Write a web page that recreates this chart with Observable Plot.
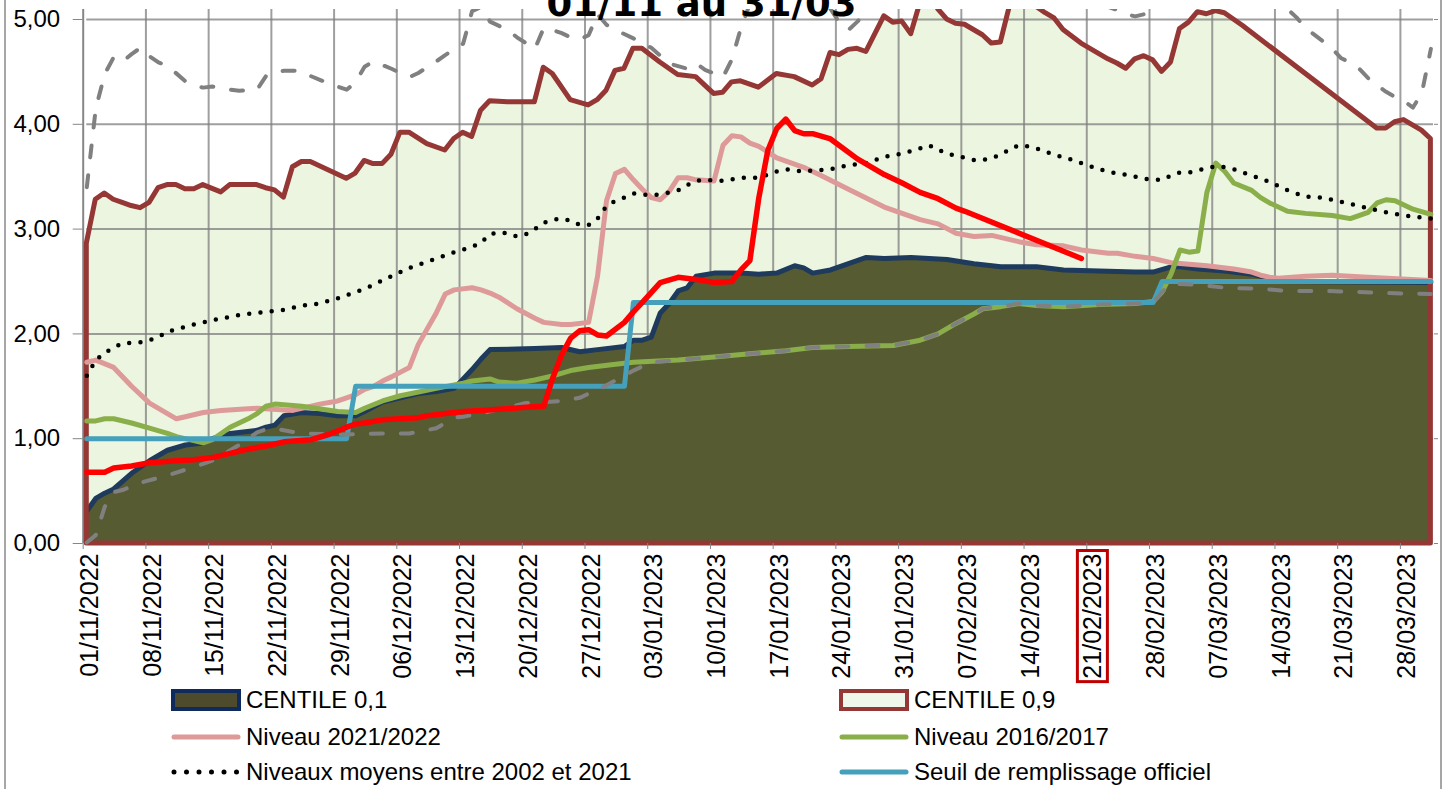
<!DOCTYPE html>
<html>
<head>
<meta charset="utf-8">
<script src="https://cdn.jsdelivr.net/npm/d3@7"></script>
<script src="https://cdn.jsdelivr.net/npm/@observablehq/plot@0.6"></script>
<style>
  body { margin: 0; background: #fff; }
  #wrap { position: relative; width: 1447px; height: 789px; overflow: hidden; font-family: "Liberation Sans", Arial, sans-serif; }
  #chart { position: absolute; left: 0; top: 0; }
  #title { position: absolute; left: 0; width: 1403px; top: -15px; text-align: center; font: bold 37px/37px "DejaVu Sans", sans-serif; color: #000; white-space: nowrap; }
  .border { position: absolute; top: 0; width: 2px; height: 789px; background: #a6a6a6; }
  .leg { position: absolute; height: 24px; display: flex; align-items: center; font-size: 24px; color: #000; white-space: nowrap; }
  .leg svg { margin-right: 5px; flex: none; }
</style>
</head>
<body>
<div id="wrap">
  <div class="border" style="left:4px"></div>
  <div class="border" style="left:1440px"></div>
  <div id="chart"></div>
  <div id="title">01/11 au 31/03</div>
  <div id="legend"></div>
</div>
<script>
// ---- categories / tick labels ----
const startDay = "01/11/2022";
const endDay = "31/03/2023";
const tickLabels = ["01/11/2022","08/11/2022","15/11/2022","22/11/2022","29/11/2022","06/12/2022","13/12/2022","20/12/2022","27/12/2022","03/01/2023","10/01/2023","17/01/2023","24/01/2023","31/01/2023","07/02/2023","14/02/2023","21/02/2023","28/02/2023","07/03/2023","14/03/2023","21/03/2023","28/03/2023"];
const yTicks = [0, 1, 2, 3, 4, 5];
const highlightedLabel = "21/02/2023";

// ---- series: [day index from 01/11/2022, value] ----
const centile90 = [[0,2.86],[1,3.28],[2,3.34],[3,3.28],[4,3.25],[5,3.22],[6,3.20],[7,3.25],[8,3.39],[9,3.42],[10,3.42],[11,3.38],[12,3.38],[13,3.42],[15,3.35],[16,3.42],[19,3.42],[20,3.39],[21,3.37],[22,3.30],[23,3.59],[24,3.64],[25,3.64],[29,3.48],[30,3.53],[31,3.65],[32,3.62],[33,3.62],[34,3.71],[35,3.92],[36,3.92],[38,3.81],[40,3.75],[41,3.86],[42,3.92],[43,3.88],[44,4.13],[45,4.22],[47,4.21],[50,4.21],[51,4.54],[52,4.48],[54,4.23],[56,4.18],[57,4.23],[58,4.32],[59,4.51],[60,4.53],[61,4.72],[62,4.72],[64,4.59],[66,4.47],[68,4.45],[70,4.29],[71,4.30],[72,4.40],[73,4.41],[75,4.35],[77,4.48],[79,4.45],[81,4.37],[82,4.43],[83,4.68],[84,4.66],[85,4.71],[86,4.72],[87,4.69],[89,5.03],[90,4.97],[91,4.98],[92,4.86],[93,5.15],[94,5.30],[95,5.10],[96,5.00],[97,4.96],[98,4.95],[99,4.90],[100,4.85],[101,4.77],[102,4.78],[103,5.12],[104,5.30],[105,5.35],[106,5.12],[107,5.06],[108,5.01],[109,4.90],[111,4.77],[114,4.62],[115,4.58],[116,4.53],[117,4.62],[118,4.65],[119,4.61],[120,4.50],[121,4.59],[122,4.91],[123,4.97],[124,5.07],[125,5.05],[126,5.08],[127,5.06],[129,4.94],[144,3.96],[145,3.96],[146,4.02],[147,4.04],[149,3.94],[150,3.86]];
const centile10 = [[0,0.31],[1,0.43],[2,0.48],[3,0.52],[5,0.67],[7,0.79],[9,0.89],[11,0.94],[13,0.96],[14,1.00],[16,1.05],[19,1.08],[20,1.11],[21,1.13],[22,1.22],[24,1.25],[26,1.24],[28,1.22],[30,1.22],[31,1.26],[33,1.35],[35,1.39],[37,1.43],[39,1.45],[41,1.48],[42,1.57],[43,1.66],[44,1.76],[45,1.85],[50,1.86],[53,1.87],[55,1.83],[57,1.85],[60,1.88],[61,1.94],[62,1.94],[63,1.97],[64,2.20],[65,2.29],[66,2.41],[67,2.44],[68,2.55],[70,2.58],[73,2.58],[75,2.57],[77,2.58],[79,2.65],[80,2.63],[81,2.58],[83,2.61],[85,2.67],[87,2.73],[89,2.72],[92,2.73],[96,2.71],[99,2.67],[102,2.64],[106,2.64],[109,2.61],[113,2.60],[117,2.59],[119,2.59],[121,2.64],[122,2.64],[124,2.62],[127,2.60],[130,2.57],[132,2.53],[133,2.50],[150,2.49]];
const niveau2122 = [[0,1.73],[1,1.75],[3,1.68],[5,1.50],[7,1.34],[10,1.19],[11,1.21],[13,1.25],[15,1.27],[19,1.29],[23,1.27],[26,1.33],[28,1.36],[29,1.39],[30,1.42],[31,1.47],[32,1.50],[33,1.55],[34,1.59],[36,1.68],[37,1.90],[39,2.20],[40,2.38],[41,2.42],[43,2.44],[44,2.42],[45,2.39],[46,2.35],[48,2.24],[50,2.15],[51,2.11],[53,2.09],[54,2.09],[56,2.11],[57,2.55],[58,3.27],[59,3.53],[60,3.57],[61,3.47],[62,3.38],[63,3.30],[64,3.28],[65,3.36],[66,3.49],[67,3.49],[68,3.47],[70,3.46],[71,3.80],[72,3.89],[73,3.88],[74,3.82],[75,3.79],[77,3.68],[80,3.59],[82,3.51],[85,3.38],[89,3.21],[93,3.09],[95,3.05],[97,2.96],[99,2.93],[101,2.94],[104,2.88],[106,2.85],[109,2.84],[111,2.80],[114,2.77],[115,2.77],[117,2.74],[119,2.72],[121,2.68],[125,2.65],[128,2.62],[130,2.59],[131,2.56],[132,2.54],[133,2.53],[136,2.55],[139,2.56],[143,2.54],[150,2.51]];
const niveau1617 = [[0,1.17],[1,1.17],[2,1.19],[3,1.19],[5,1.15],[7,1.10],[9,1.05],[10,1.02],[13,0.96],[14,0.99],[15,1.05],[16,1.11],[17,1.15],[18,1.19],[19,1.24],[20,1.31],[21,1.33],[24,1.31],[28,1.26],[30,1.25],[31,1.29],[33,1.36],[35,1.41],[39,1.48],[42,1.53],[43,1.55],[45,1.57],[46,1.54],[48,1.53],[50,1.56],[52,1.60],[54,1.65],[56,1.68],[59,1.71],[61,1.73],[66,1.75],[70,1.78],[74,1.81],[78,1.84],[81,1.87],[85,1.88],[90,1.89],[93,1.94],[95,2.00],[97,2.10],[99,2.19],[100,2.24],[102,2.26],[104,2.29],[106,2.27],[109,2.26],[113,2.28],[117,2.29],[119,2.31],[120,2.40],[121,2.57],[122,2.80],[123,2.78],[124,2.79],[125,3.35],[126,3.63],[127,3.55],[128,3.44],[130,3.37],[131,3.30],[132,3.25],[134,3.17],[136,3.15],[139,3.13],[141,3.10],[143,3.16],[144,3.25],[145,3.28],[146,3.27],[148,3.19],[150,3.14]];
const seuilOfficiel = [[0,1.0],[29,1.0],[30,1.5],[60,1.5],[61,2.3],[119,2.3],[120,2.5],[150,2.5]];
const niveauxMoyens = [[0,1.60],[1,1.75],[2,1.82],[3,1.87],[4,1.91],[6,1.92],[7,1.94],[8,1.97],[9,2.02],[12,2.09],[14,2.13],[17,2.18],[19,2.20],[22,2.23],[24,2.27],[26,2.29],[28,2.34],[29,2.37],[31,2.43],[33,2.51],[36,2.63],[38,2.69],[41,2.78],[43,2.83],[44,2.87],[45,2.95],[46,2.97],[47,2.96],[48,2.93],[49,2.95],[50,3.00],[51,3.06],[52,3.09],[53,3.10],[54,3.08],[55,3.04],[56,3.04],[57,3.10],[58,3.22],[59,3.27],[60,3.30],[61,3.34],[63,3.32],[65,3.35],[66,3.37],[67,3.42],[68,3.46],[69,3.47],[71,3.46],[73,3.49],[75,3.49],[77,3.55],[78,3.57],[80,3.55],[81,3.56],[83,3.57],[85,3.61],[87,3.63],[89,3.69],[91,3.72],[93,3.77],[94,3.80],[95,3.76],[96,3.72],[97,3.70],[98,3.68],[99,3.66],[100,3.66],[101,3.68],[102,3.71],[103,3.76],[104,3.80],[105,3.79],[106,3.77],[108,3.71],[110,3.66],[113,3.57],[115,3.53],[116,3.52],[118,3.48],[119,3.47],[120,3.47],[121,3.51],[122,3.54],[123,3.54],[125,3.58],[126,3.60],[127,3.59],[128,3.57],[130,3.51],[132,3.45],[134,3.37],[136,3.31],[138,3.30],[140,3.26],[143,3.20],[145,3.16],[147,3.13],[149,3.11],[150,3.10]];
const minDashed = [[0,0.01],[1,0.08],[2,0.35],[3,0.49],[4,0.51],[6,0.58],[9,0.65],[12,0.73],[14,0.79],[16,0.89],[17,0.94],[19,1.06],[20,1.09],[21,1.10],[22,1.08],[24,1.05],[28,1.04],[33,1.05],[36,1.05],[39,1.10],[41,1.20],[42,1.21],[44,1.24],[46,1.28],[49,1.34],[53,1.36],[55,1.39],[58,1.51],[61,1.65],[63,1.73],[66,1.75],[70,1.78],[74,1.81],[78,1.84],[81,1.87],[85,1.88],[90,1.89],[93,1.94],[95,2.00],[97,2.10],[99,2.19],[100,2.24],[102,2.26],[104,2.29],[106,2.27],[109,2.26],[113,2.28],[117,2.29],[119,2.30],[120,2.40],[121,2.48],[124,2.47],[127,2.44],[131,2.43],[134,2.41],[138,2.41],[142,2.40],[145,2.39],[150,2.38]];
const maxDashed = [[0,3.40],[1,4.15],[2,4.48],[3,4.64],[4,4.60],[5,4.67],[6,4.73],[7,4.65],[8,4.59],[9,4.56],[11,4.41],[12,4.37],[13,4.35],[14,4.36],[16,4.33],[17,4.32],[19,4.33],[20,4.46],[21,4.50],[22,4.51],[24,4.51],[25,4.46],[27,4.39],[29,4.33],[30,4.40],[31,4.55],[32,4.60],[34,4.53],[36,4.45],[37,4.49],[39,4.60],[40,4.66],[42,4.77],[43,5.08],[44,5.12],[45,4.98],[47,4.90],[48,4.83],[50,4.72],[51,4.92],[52,4.90],[53,4.87],[54,4.83],[55,4.81],[56,4.85],[57,5.05],[58,4.95],[59,4.90],[61,4.82],[63,4.73],[65,4.58],[67,4.53],[68,4.58],[69,4.52],[71,4.45],[72,4.62],[73,4.92],[74,5.15],[76,5.50],[80,5.60],[83,5.10],[84,4.97],[85,4.90],[86,4.98],[87,5.08],[88,5.20],[92,5.60],[100,5.60],[110,5.40],[114,5.12],[115,5.09],[116,5.05],[117,5.03],[118,5.05],[119,5.09],[120,5.20],[125,5.40],[133,5.20],[134,5.10],[135,5.02],[136,4.92],[138,4.79],[139,4.72],[140,4.63],[141,4.59],[142,4.53],[143,4.44],[144,4.37],[145,4.31],[146,4.26],[147,4.22],[148,4.16],[149,4.30],[150,4.72]];
const niveau2223 = [[0,0.68],[2,0.68],[3,0.72],[5,0.74],[7,0.77],[10,0.79],[12,0.80],[14,0.82],[16,0.86],[17,0.88],[18,0.90],[20,0.93],[22,0.97],[25,0.99],[27,1.04],[29,1.11],[30,1.14],[31,1.15],[33,1.18],[35,1.19],[37,1.20],[38,1.22],[40,1.24],[42,1.26],[44,1.27],[46,1.28],[49,1.30],[51,1.31],[52,1.58],[53,1.80],[54,1.96],[55,2.03],[56,2.04],[57,1.99],[58,1.98],[60,2.11],[61,2.21],[62,2.30],[64,2.49],[66,2.54],[68,2.52],[70,2.49],[72,2.50],[73,2.61],[74,2.70],[75,3.30],[76,3.75],[77,3.96],[78,4.05],[79,3.94],[80,3.91],[81,3.91],[83,3.86],[86,3.67],[89,3.52],[91,3.44],[93,3.35],[95,3.29],[97,3.20],[98,3.17],[111,2.72]];

// ---- legend entries ----
const legendItems = [
  {label: "CENTILE 0,1", kind: "box", fill: "#4E4B2D", stroke: "#0F2B5E", col: 0, row: 0},
  {label: "CENTILE 0,9", kind: "box", fill: "#EEF7EA", stroke: "#953735", col: 1, row: 0},
  {label: "Niveau 2021/2022", kind: "line", stroke: "#DD9A98", col: 0, row: 1},
  {label: "Niveau 2016/2017", kind: "line", stroke: "#8AAE4A", col: 1, row: 1},
  {label: "Niveaux moyens entre 2002 et 2021", kind: "dots", stroke: "#000", col: 0, row: 2},
  {label: "Seuil de remplissage officiel", kind: "line", stroke: "#45A0BB", col: 1, row: 2}
];

// ---- build ----
const parse = d3.utcParse("%d/%m/%Y");
const fmt = d3.utcFormat("%d/%m/%Y");
const start = parse(startDay);
const end = parse(endDay);
const tickDates = tickLabels.map(parse);
const X = d => d3.utcHour.offset(start, d[0] * 24);
const Y = d => d[1];
const gridGray = "#7f7f7f";
const axisGray = "#868686";
const dashed = {stroke: "#808080", strokeWidth: 4, strokeDasharray: "12 18", strokeLinecap: "round", clip: true};

const chart = Plot.plot({
  width: 1447,
  height: 684,
  marginTop: 9,
  marginBottom: 141,
  marginLeft: 86.3,
  marginRight: 14,
  style: {background: "transparent", fontFamily: "'Liberation Sans', Arial, sans-serif", overflow: "visible"},
  x: {type: "utc", domain: [start, d3.utcHour.offset(end, 7.2)], axis: null},
  y: {domain: [0, 5.0954], axis: null},
  marks: [
    Plot.areaY(centile90, {x: X, y: Y, fill: "#EBF5DF", clip: true}),
    Plot.ruleY(yTicks.filter(v => v > 0), {y: d => d, stroke: gridGray, strokeOpacity: 0.75, strokeWidth: 2}),
    Plot.ruleX(tickDates.slice(1), {x: d => d, stroke: gridGray, strokeOpacity: 0.75, strokeWidth: 2, dx: -3.6}),
    Plot.ruleX([start], {x: d => d, stroke: axisGray, strokeWidth: 2, dx: -3.6}),
    Plot.areaY(centile10, {x: X, y: Y, fill: "#575B31", clip: true}),
    Plot.lineY(centile10, {x: X, y: Y, stroke: "#1E3A5C", strokeWidth: 5, clip: true}),
    Plot.areaY(centile90, {x: X, y: Y, fill: "none", stroke: "#953735", strokeWidth: 5, strokeLinejoin: "round", clip: true}),
    Plot.lineY(niveau2122, {x: X, y: Y, stroke: "#DD9A98", strokeWidth: 5, clip: true}),
    Plot.lineY(niveau1617, {x: X, y: Y, stroke: "#8AAE4A", strokeWidth: 5, clip: true}),
    Plot.lineY(seuilOfficiel, {x: X, y: Y, stroke: "#45A0BB", strokeWidth: 5, clip: true}),
    Plot.lineY(minDashed, {x: X, y: Y, ...dashed}),
    Plot.lineY(maxDashed, {x: X, y: Y, ...dashed}),
    Plot.lineY(niveauxMoyens, {x: X, y: Y, stroke: "#000", strokeWidth: 4.5, strokeDasharray: "0 11.3", strokeLinecap: "round", clip: true}),
    Plot.lineY(niveau2223, {x: X, y: Y, stroke: "#FF0000", strokeWidth: 5.5, strokeLinejoin: "round", clip: true}),
    Plot.axisY({ticks: yTicks, tickSize: 10, tickPadding: 13, dx: -3.6, stroke: axisGray, fill: "#000", fontSize: 24,
      tickFormat: v => v.toFixed(2).replace(".", ",")}),
    Plot.axisY({anchor: "right", ticks: yTicks, tickSize: 4, stroke: axisGray, tickFormat: () => ""}),
    Plot.axisX({ticks: tickDates, tickSize: 6, dx: -3.6, stroke: axisGray, tickFormat: () => ""}),
    Plot.text(tickDates, {x: d => d, text: d => fmt(d), frameAnchor: "bottom", rotate: -90, textAnchor: "end",
      lineAnchor: "middle", dy: 10, dx: 3, fontSize: 25, fill: "#000"})
  ]
});
document.getElementById("chart").appendChild(chart);

// let clipped marks keep the full stroke at bottom/left/right; only the top is cut
chart.querySelectorAll("clipPath rect").forEach(r => {
  r.setAttribute("x", 0); r.setAttribute("width", 1447);
  r.setAttribute("y", 9); r.setAttribute("height", 545);
});

// red box around the highlighted date label
const svgBox = chart.getBoundingClientRect();
const hl = [...chart.querySelectorAll("text")].find(t => t.textContent === highlightedLabel);
if (hl) {
  const b = hl.getBoundingClientRect();
  const r = document.createElementNS("http://www.w3.org/2000/svg", "rect");
  r.setAttribute("x", b.left - svgBox.left - 1);
  r.setAttribute("y", b.top - svgBox.top - 3);
  r.setAttribute("width", b.width + 2);
  r.setAttribute("height", b.height + 6);
  r.setAttribute("fill", "none");
  r.setAttribute("stroke", "#C00000");
  r.setAttribute("stroke-width", 3);
  chart.appendChild(r);
}

// legend
const legend = document.getElementById("legend");
const colX = [171, 839];
const rowY = [700, 737, 772];
for (const it of legendItems) {
  const div = document.createElement("div");
  div.className = "leg";
  div.style.left = colX[it.col] + "px";
  div.style.top = (rowY[it.row] - 12) + "px";
  let sw;
  if (it.kind === "box") {
    sw = `<svg width="70" height="22"><rect x="2" y="2" width="66" height="18" fill="${it.fill}" stroke="${it.stroke}" stroke-width="4"/></svg>`;
  } else if (it.kind === "line") {
    sw = `<svg width="70" height="22"><line x1="3" x2="67" y1="11" y2="11" stroke="${it.stroke}" stroke-width="5" stroke-linecap="round"/></svg>`;
  } else {
    sw = `<svg width="70" height="22"><line x1="3" x2="67" y1="11" y2="11" stroke="${it.stroke}" stroke-width="5" stroke-dasharray="0 12.5" stroke-linecap="round"/></svg>`;
  }
  div.innerHTML = sw + `<span>${it.label}</span>`;
  legend.appendChild(div);
}
</script>
</body>
</html>
